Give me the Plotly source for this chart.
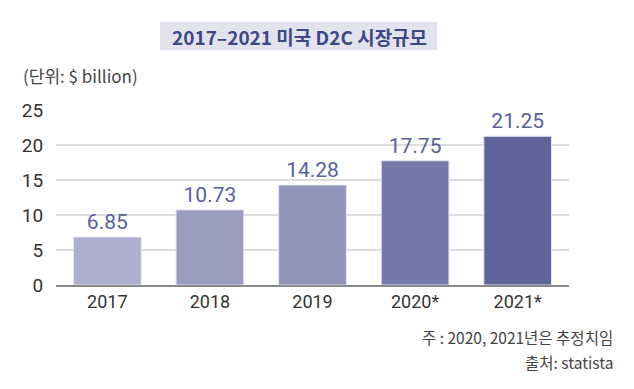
import plotly.graph_objects as go

categories = ["2017", "2018", "2019", "2020*", "2021*"]
values = [6.85, 10.73, 14.28, 17.75, 21.25]
value_labels = ["6.85", "10.73", "14.28", "17.75", "21.25"]
bar_colors = ["#adafcc", "#9a9cc0", "#9194b8", "#7579a9", "#5f6598"]
y_ticks = [0, 5, 10, 15, 20, 25]

FONT = "Roboto, 'Noto Sans CJK KR', sans-serif"
KFONT = "'Noto Sans CJK KR', 'Noto Sans', sans-serif"

# page body has an 8px margin; compensate
OFF = 8
W, H = 634, 389
L, R, T, B = 56 - OFF, 65 + OFF, 110 - OFF, 104 + OFF
pw = W - L - R
ph = H - T - B


def px(x):
    return (x - OFF - L) / pw


def py(y):
    return (H - B - (y - OFF)) / ph


fig = go.Figure()
fig.add_trace(go.Bar(
    x=categories, y=values,
    marker=dict(color=bar_colors, line=dict(color="#e4e4f2", width=1)),
    text=value_labels, textposition="outside", cliponaxis=False,
    textfont=dict(size=21, color="#5a5f9b", family=FONT),
    width=0.66,
))

fig.update_layout(
    width=W, height=H,
    margin=dict(l=L, r=R, t=T, b=B),
    paper_bgcolor="white", plot_bgcolor="white",
    showlegend=False,
    xaxis=dict(
        showgrid=False, showline=True, linecolor="#8a8a8a", linewidth=1.5,
        tickfont=dict(size=18, color="#333333", family=FONT),
        ticks="", ticklen=0,
    ),
    yaxis=dict(
        range=[0, 25], tickvals=y_ticks, showgrid=True, gridcolor="#dcdcdc",
        gridwidth=1.5, zeroline=False, showline=False,
        tickfont=dict(size=19, color="#333333", family=FONT),
        ticks="outside", ticklen=8, tickcolor="white",
    ),
    shapes=[
        dict(type="rect", xref="paper", yref="paper",
             x0=px(160), x1=px(437), y0=py(50), y1=py(22),
             fillcolor="#e3e3ee", line=dict(width=0), layer="below"),
    ],
    annotations=[
        dict(text="<b>2017–2021 미국 D2C 시장규모</b>", x=px(299), y=py(36),
             showarrow=False, font=dict(size=19, color="#3e4886", family=KFONT),
             xanchor="center", yanchor="middle"),
        dict(text="(단위: $ billion)", x=px(21), y=py(75), showarrow=False,
             font=dict(size=17, color="#444444", family=KFONT), xanchor="left", yanchor="middle"),
        dict(text="주 : 2020, 2021년은 추정치임", x=px(615), y=py(337), showarrow=False,
             font=dict(size=15.5, color="#444444", family=KFONT), xanchor="right", yanchor="middle"),
        dict(text="출처: statista", x=px(615), y=py(362), showarrow=False,
             font=dict(size=15.5, color="#444444", family=KFONT), xanchor="right", yanchor="middle"),
    ],
)
for a in fig.layout.annotations:
    a.xref = "paper"
    a.yref = "paper"

fig.write_html("out.html")
